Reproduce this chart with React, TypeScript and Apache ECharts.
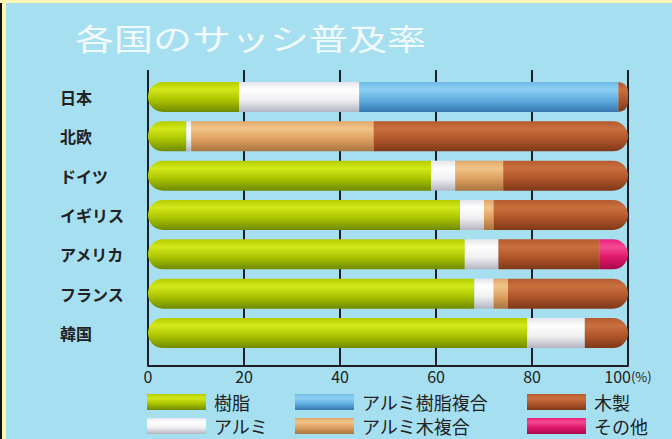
import React, { useEffect, useRef } from 'react';
import * as echarts from 'echarts';

const countries = ['日本', '北欧', 'ドイツ', 'イギリス', 'アメリカ', 'フランス', '韓国'];
const seriesNames = ['樹脂', 'アルミ', 'アルミ樹脂複合', 'アルミ木複合', '木製', 'その他'];
const resin = [19, 8, 59, 65, 66, 68, 79];
const alumi = [25, 1, 5, 5, 7, 4, 12];
const alumiResin = [54, 0, 0, 0, 0, 0, 0];
const alumiWood = [0, 38, 10, 2, 0, 3, 0];
const wood = [2, 53, 26, 28, 21, 25, 9];
const other = [0, 0, 0, 0, 6, 0, 0];
const xTicks = [0, 20, 40, 60, 80, 100];
const titleText = '各国のサッシ普及率';

const FONT = '"Noto Sans CJK JP", "Noto Sans", sans-serif';

const grad = (a: string, b: string, c: string, d: string) =>
  new echarts.graphic.LinearGradient(0, 0, 0, 1, [
    { offset: 0, color: a },
    { offset: 0.25, color: b },
    { offset: 0.6, color: c },
    { offset: 1, color: d },
  ]);

const palette = [
  grad('#B5CC00', '#D2E81A', '#AAC400', '#6F8A00'),
  grad('#E4E4EA', '#FFFFFF', '#F0F0F2', '#B4B4C2'),
  grad('#6FBCE8', '#8ED0F4', '#5FAEE0', '#3878B0'),
  grad('#E0A868', '#F2C48A', '#DDA060', '#A87440'),
  grad('#B65A30', '#C9703E', '#B0552A', '#7E3818'),
  grad('#E82078', '#F54A92', '#E0186A', '#A80848'),
];

export default function App() {
  const ref = useRef<HTMLDivElement>(null);
  useEffect(() => {
    if (!ref.current) return;
    const chart = echarts.init(ref.current, null, { renderer: 'svg' });
    const all = [resin, alumi, alumiResin, alumiWood, wood, other];
    const R = 15;
    const series = all.map((vals, s) => ({
      name: seriesNames[s],
      type: 'bar',
      stack: 'total',
      xAxisIndex: 0,
      yAxisIndex: 0,
      barWidth: 30,
      itemStyle: { color: palette[s] },
      data: vals.map((v, i) => {
        const nz = all.map((arr) => arr[i]).map((x, k) => (x > 0 ? k : -1)).filter((k) => k >= 0);
        const first = nz[0] === s;
        const last = nz[nz.length - 1] === s;
        return {
          value: v,
          itemStyle: { borderRadius: [first ? R : 0, last ? R : 0, last ? R : 0, first ? R : 0] },
        };
      }),
    }));

    const legendCommon = {
      orient: 'vertical',
      icon: 'rect',
      itemWidth: 59,
      itemHeight: 16,
      itemGap: 6,
      padding: 0,
      top: 393,
      selectedMode: false,
      textStyle: { fontSize: 18, color: '#222', fontFamily: FONT, lineHeight: 18, padding: [0, 0, 0, 3] },
    };

    chart.setOption({
      animation: false,
      backgroundColor: '#A6DFF0',
      textStyle: { fontFamily: FONT },
      graphic: [
        { type: 'rect', shape: { x: 0, y: 0, width: 2, height: 439 }, style: { fill: '#111' } },
        { type: 'rect', shape: { x: 2, y: 0, width: 4, height: 439 }, style: { fill: '#FFF6B4' } },
        { type: 'rect', shape: { x: 0, y: 0, width: 672, height: 3 }, style: { fill: '#FFF6B4' } },
        {
          type: 'text',
          x: 75,
          y: 37,
          scaleX: 1.3,
          style: {
            text: titleText,
            fill: 'rgba(255,255,255,0.85)',
            font: `normal 30px ${FONT}`,
            textVerticalAlign: 'middle',
          },
        },
      ],
      grid: [
        { left: 148, right: 44, top: 77.3, bottom: 86.3 },
        { left: 148, right: 44, top: 70, bottom: 73 },
      ],
      xAxis: [
        { type: 'value', gridIndex: 0, min: 0, max: 100, show: false },
        {
          type: 'value',
          gridIndex: 1,
          min: 0,
          max: 100,
          interval: 20,
          axisLine: { show: true, lineStyle: { color: '#1E1E28', width: 2 } },
          axisTick: { show: false },
          splitLine: { show: true, lineStyle: { color: '#1E1E28', width: 2 } },
          axisLabel: {
            margin: 3,
            color: '#222',
            fontSize: 16,
            lineHeight: 14,
            fontFamily: FONT,
            formatter: (v: number) => (v === 100 ? '{a|100}{b|(%)}' : String(v)),
            rich: {
              a: { fontSize: 16, lineHeight: 14, color: '#222', fontFamily: FONT },
              b: { fontSize: 13, lineHeight: 14, color: '#222', fontFamily: FONT },
            },
          },
        },
      ],
      yAxis: [
        {
          type: 'category',
          gridIndex: 0,
          inverse: true,
          data: countries,
          axisLine: { show: false },
          axisTick: { show: false },
          axisLabel: {
            align: 'left',
            margin: 88,
            fontSize: 16,
            fontWeight: 'bold',
            color: '#222',
            fontFamily: FONT,
          },
        },
        { type: 'value', gridIndex: 1, min: 0, max: 1, show: false },
      ],
      legend: [
        { ...legendCommon, left: 147, data: ['樹脂', 'アルミ'] },
        { ...legendCommon, left: 295, data: ['アルミ樹脂複合', 'アルミ木複合'] },
        { ...legendCommon, left: 527, data: ['木製', 'その他'] },
      ],
      series,
    });
    return () => chart.dispose();
  }, []);
  return <div ref={ref} style={{ position: 'fixed', left: 0, top: 0, width: 672, height: 439 }} />;
}
